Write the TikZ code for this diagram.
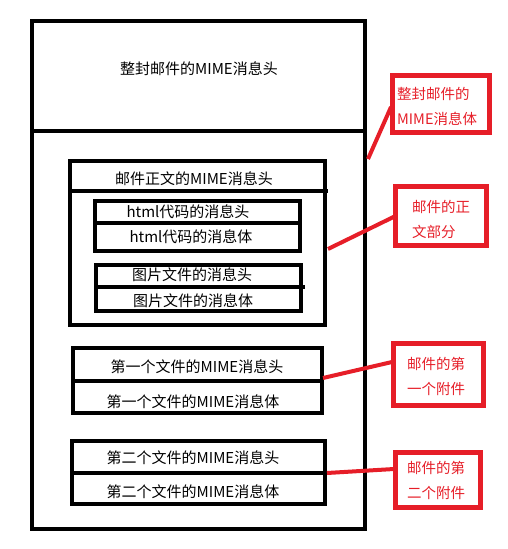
\documentclass[tikz,border=0pt]{standalone}
\usepackage{fontspec}
\setmainfont{Noto Sans CJK SC}
\definecolor{pred}{RGB}{230,30,40}
\begin{document}
\begin{tikzpicture}[x=1pt,y=-1pt,
  box/.style={draw=black,line width=4pt,minimum width=#1,inner sep=0pt,outer sep=0pt},
  rbox/.style={draw=pred,line width=5pt,inner sep=0pt,outer sep=0pt},
  txt/.style={font=\fontsize{15}{17}\selectfont,text=black,inner sep=0pt},
  rtxt/.style={font=\fontsize{14.5}{25}\selectfont,text=pred,align=left,inner sep=0pt,anchor=west},
  div/.style={line width=4pt,draw=black},
  conn/.style={draw=pred,line width=4pt}]
\useasboundingbox (0,0) rectangle (507,549);
% outer box
\node[box=333pt,minimum height=508pt] (outer) at (198.5,275) {};
\coordinate (dl) at (32,131); \coordinate (dr) at (365,131);
\draw[div] (dl) -- (dr);
\node[txt] (t0) at (199,69) {整封邮件的MIME消息头};
% body part
\node[box=255pt,minimum height=164pt] (body) at (197.5,243) {};
\coordinate (bl) at (70,191); \coordinate (br) at (328,191);
\draw[div] (bl) -- (br);
\node[txt] (t1) at (194,179) {邮件正文的MIME消息头};
% html
\node[box=205pt,minimum height=50pt] (html) at (197.5,226) {};
\coordinate (hl) at (95,223); \coordinate (hr) at (300,223);
\draw[div] (hl) -- (hr);
\node[txt] (t2) at (188,212) {html代码的消息头};
\node[txt] (t3) at (191,237) {html代码的消息体};
% image
\node[box=205pt,minimum height=46pt] (img) at (198.5,288) {};
\coordinate (il) at (96,287); \coordinate (ir) at (305,287);
\draw[div] (il) -- (ir);
\node[txt] (t4) at (192,275) {图片文件的消息头};
\node[txt] (t5) at (193,301) {图片文件的消息体};
% attachment 1
\node[box=249pt,minimum height=65pt] (a1) at (197.5,380.5) {};
\coordinate (a1l) at (73,381); \coordinate (a1r) at (322,381);
\draw[div] (a1l) -- (a1r);
\node[txt] (t6) at (197,367) {第一个文件的MIME消息头};
\node[txt] (t7) at (193,402) {第一个文件的MIME消息体};
% attachment 2
\node[box=253pt,minimum height=63pt] (a2) at (198.5,472.5) {};
\coordinate (a2l) at (72,473); \coordinate (a2r) at (325,473);
\draw[div] (a2l) -- (a2r);
\node[txt] (t8) at (193,458) {第二个文件的MIME消息头};
\node[txt] (t9) at (193,492) {第二个文件的MIME消息体};
% red boxes
\node[rbox,minimum width=97pt,minimum height=57pt] (r1) at (441,104) {};
\node[rtxt] (rt1) at (397,106) {整封邮件的\\MIME消息体};
\node[rbox,minimum width=91pt,minimum height=59pt] (r2) at (441,216) {};
\node[rtxt] (rt2) at (412,219) {邮件的正\\文部分};
\node[rbox,minimum width=90pt,minimum height=62pt] (r3) at (438.5,374.5) {};
\node[rtxt] (rt3) at (407,376) {邮件的第\\一个附件};
\node[rbox,minimum width=85pt,minimum height=55pt] (r4) at (438,480) {};
\node[rtxt] (rt4) at (407,480) {邮件的第\\二个附件};
% connectors
\coordinate (c1a) at (391,107); \coordinate (c1b) at (368,159);
\draw[conn] (c1a) -- (c1b);
\coordinate (c2b) at (328,249);
\draw[conn] (r2.west) -- (c2b);
\coordinate (c3a) at (392,362); \coordinate (c3b) at (323,378);
\draw[conn] (c3a) -- (c3b);
\coordinate (c4a) at (394,469); \coordinate (c4b) at (327,473);
\draw[conn] (c4a) -- (c4b);
\end{tikzpicture}
\end{document}
